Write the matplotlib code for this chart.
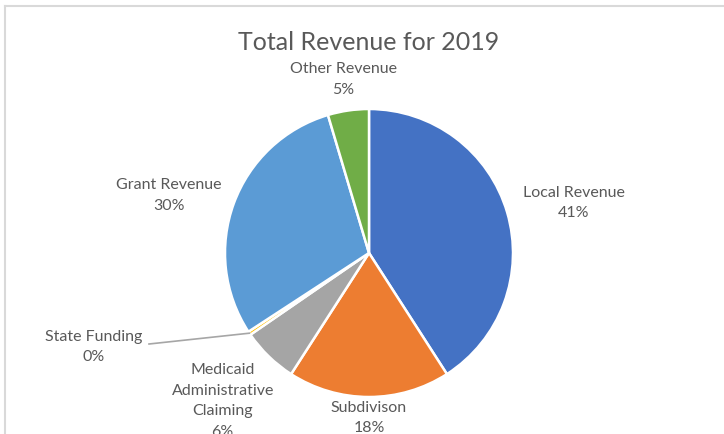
import numpy as np
import matplotlib.pyplot as plt
from matplotlib.lines import Line2D

plt.rcParams['font.family'] = ['Lato', 'DejaVu Sans']

labels = ['Local Revenue', 'Subdivison', 'Medicaid\nAdministrative\nClaiming',
          'State Funding', 'Grant Revenue', 'Other Revenue']
values = [40.9, 18.2, 6.3, 0.4, 29.6, 4.6]
colors = ['#4472C4', '#ED7D31', '#A5A5A5', '#FFC000', '#5B9BD5', '#70AD47']

W, H = 724, 435
fig = plt.figure(figsize=(W / 100, H / 100), dpi=100)
ax = fig.add_axes([0, 0, 1, 1])

cx, cy, r = 369, H - 254, 144
wedges, _ = ax.pie(values, colors=colors, startangle=90, counterclock=False,
                   center=(cx, cy), radius=r,
                   wedgeprops=dict(edgecolor='white', linewidth=1.8))
ax.set_xlim(0, W)
ax.set_ylim(0, H)
ax.set_aspect('equal')
ax.axis('off')

# label distance (in radii) for each slice, plus little nudges
dist = [1.48, 1.14, 1.46, None, 1.48, 1.23]
nudge = [(0, -9), (0, 0), (0, 4), (0, 0), (0, -15), (0, -1)]
fs, ls = 11.5, 1.6
total = sum(values)
for i, w in enumerate(wedges):
    pct = values[i] / total * 100
    txt = f'{labels[i]}\n{pct:.0f}%'
    ang = np.deg2rad((w.theta1 + w.theta2) / 2)
    if dist[i] is None:
        # tiny slice: label pulled out with a leader line
        ex, ey = cx + r * np.cos(ang), cy + r * np.sin(ang)
        tx, ty = 94, H - 347
        ax.plot([tx + 55, ex], [ty + 2, ey], color='#A6A6A6', lw=1.2)
        ax.text(tx, ty, txt, ha='center', va='center', fontsize=fs,
                color='#595959', linespacing=ls)
        continue
    x = cx + dist[i] * r * np.cos(ang) + nudge[i][0]
    y = cy + dist[i] * r * np.sin(ang) + nudge[i][1]
    ax.text(x, y, txt, ha='center', va='center', fontsize=fs,
            color='#595959', linespacing=ls)

ax.text(369, H - 43, 'Total Revenue for 2019', ha='center', va='center',
        fontsize=18, color='#595959')

# chart border (only top and left are visible in the crop)
fig.add_artist(Line2D([5 / W, 1], [1 - 7 / H, 1 - 7 / H], color='#D9D9D9', lw=1.5))
fig.add_artist(Line2D([5 / W, 5 / W], [0, 1 - 7 / H], color='#D9D9D9', lw=1.5))

fig.savefig('out.png', dpi=100, facecolor='white')
